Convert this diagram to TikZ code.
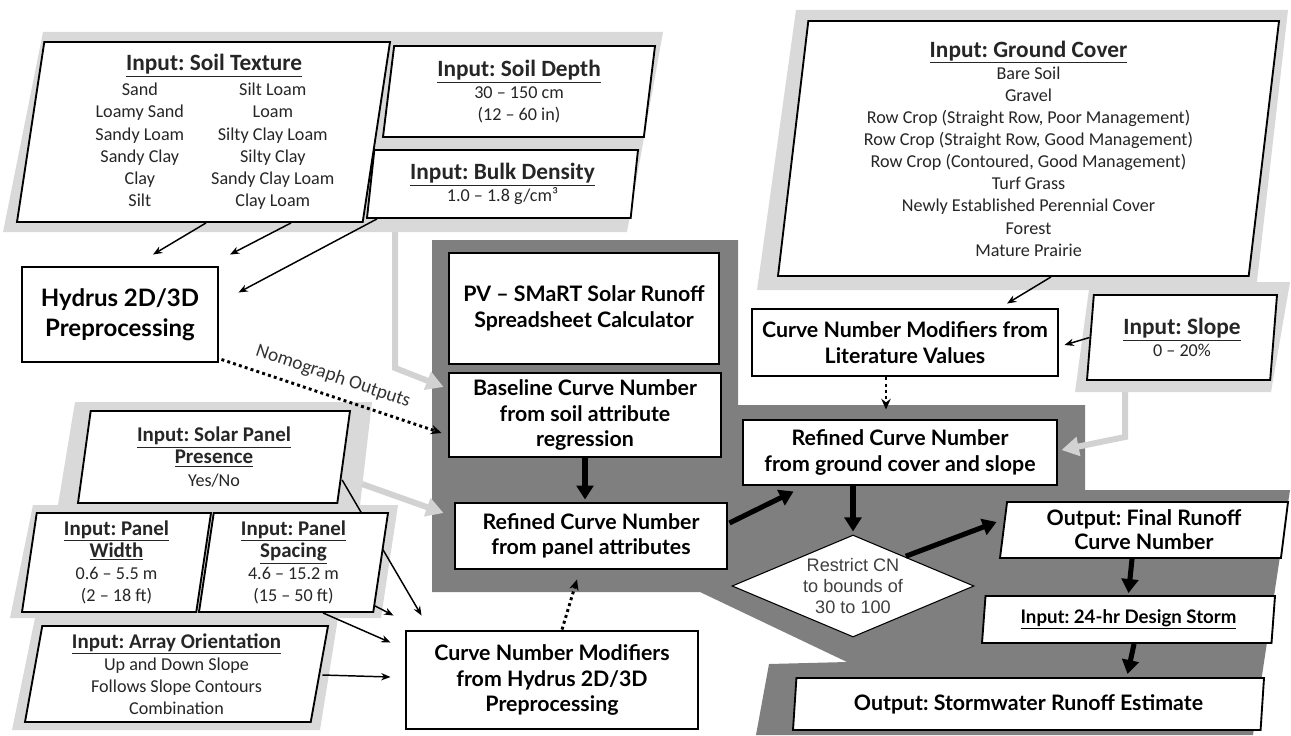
\documentclass[tikz,border=0pt]{standalone}
\usepackage{fontspec}
\setmainfont{Carlito}
\newfontfamily\procfont{Lato}
\newfontfamily\diafont{Liberation Sans}
\usetikzlibrary{shapes.geometric,arrows.meta,calc}
\pgfdeclarelayer{background}
\pgfdeclarelayer{behind}
\pgfsetlayers{background,behind,main}
\frenchspacing

\definecolor{darkbg}{HTML}{7F7F7F}
\definecolor{lightbg}{HTML}{D9D9D9}
\definecolor{lightarrow}{HTML}{D2D2D2}
\definecolor{inktext}{HTML}{262626}

\newcommand{\ttl}[1]{\underline{\textbf{#1}}}
\newcommand{\bigtitle}{\fontsize{17.5}{21}\selectfont}
\newcommand{\smalltitle}{\fontsize{15.7}{19.5}\selectfont}
\newcommand{\twocol}[2]{\hspace*{14pt}\makebox[90pt][c]{#1}\makebox[109.5pt][c]{#2}}

\begin{document}
\begin{tikzpicture}[x=0.75pt,y=-0.75pt,
  wh/.style 2 args={minimum width=#1*0.75pt, minimum height=#2*0.75pt},
  inbox/.style={trapezium, trapezium left angle=80, trapezium right angle=100,
    trapezium stretches body, draw=black, line width=1.4pt, fill=white,
    align=center, inner sep=0pt, text=inktext,
    font=\fontsize{13.6}{16.6}\selectfont},
  slantA/.style={trapezium left angle=82, trapezium right angle=98},
  slantB/.style={trapezium left angle=78, trapezium right angle=102},
  outbox/.style={inbox, text=black, font=\procfont\bfseries\fontsize{16}{18}\selectfont},
  procbox/.style={rectangle, draw=black, line width=2.2pt, fill=white,
    align=center, inner sep=0pt,
    font=\procfont\bfseries\fontsize{16}{19}\selectfont},
  thinarrow/.style={-{Stealth[length=7pt,width=5.5pt]}, line width=1.1pt},
  thickarrow/.style={-{Triangle[length=10.5pt,width=12.5pt]}, line width=3.8pt},
  dotarrow/.style={-{Stealth[length=8pt,width=7pt]}, line width=2.2pt,
    dash pattern=on 2.2pt off 2.4pt},
  grayarrow/.style={-{Triangle[length=13pt,width=14pt]}, line width=4.5pt, draw=lightarrow},
]
\useasboundingbox (0,0) rectangle (1291,735);

% ---------- group backgrounds ----------
\begin{pgfonlayer}{background}
  % soil inputs
  \fill[lightbg] (43,32) -- (663,32) -- (627,232) -- (3,232) -- cycle;
  % ground cover and slope inputs
  \fill[lightbg] (796,10) -- (1288,10) -- (1256,290) -- (757,290) -- cycle;
  \fill[lightbg] (1090,282) -- (1290,282) -- (1271,392) -- (1075,392) -- cycle;
  % panel inputs
  \fill[lightbg] (75,402) -- (372,402) -- (360,505) -- (58,505) -- cycle;
  \fill[lightbg] (33,505) -- (398,505) -- (381,618) -- (10,618) -- cycle;
  \fill[lightbg] (35,618) -- (338,618) -- (320,730) -- (12,730) -- cycle;
  % spreadsheet calculator region
  \fill[darkbg] (432,240) -- (738,240) -- (738,405) -- (1085,405) -- (1085,490)
    -- (1290,490) -- (1253,735) -- (756,735) -- (769,664) -- (847,662)
    -- (700,592) -- (432,592) -- cycle;
\end{pgfonlayer}

% ---------- inputs ----------
\node[inbox, wh={373}{180}] (soil) at (203.5,132)
  {\hspace*{16pt}{\bigtitle\ttl{Input: Soil Texture}}\\[2pt]
   \twocol{Sand}{Silt Loam}\\ \twocol{Loamy Sand}{Loam}\\
   \twocol{Sandy Loam}{Silty Clay Loam}\\ \twocol{Sandy Clay}{Silty Clay}\\
   \twocol{Clay}{Sandy Clay Loam}\\ \twocol{Silt}{Clay Loam}};
\node[inbox, wh={272}{91}] (depth) at (519,91.5)
  {{\bigtitle\ttl{Input: Soil Depth}}\\ 30 – 150 cm\\ (12 – 60 in)};
\node[inbox, wh={271}{68}] (density) at (502.5,184)
  {{\bigtitle\ttl{Input: Bulk Density}}\\ 1.0 – 1.8 g/cm³};
\node[inbox, slantA, wh={501}{255}] (ground) at (1028.5,148.5)
  {{\bigtitle\ttl{Input: Ground Cover}}\\ Bare Soil\\ Gravel\\
   Row Crop (Straight Row, Poor Management)\\
   Row Crop (Straight Row, Good Management)\\
   Row Crop (Contoured, Good Management)\\ Turf Grass\\
   Newly Established Perennial Cover\\ Forest\\ Mature Prairie};
\node[inbox, wh={190}{85}] (slope) at (1182,337.5)
  {{\bigtitle\ttl{Input: Slope}}\\ 0 – 20\%};
\node[inbox, slantB, wh={272}{92}] (solar) at (214,457)
  {{\smalltitle\ttl{Input: Solar Panel}}\\ {\smalltitle\ttl{Presence}}\\ Yes/No};
\node[inbox, wh={189}{99}] (pwidth) at (116.5,562.5)
  {{\smalltitle\ttl{Input: Panel}}\\ {\smalltitle\ttl{Width}}\\ 0.6 – 5.5 m\\ (2 – 18 ft)};
\node[inbox, wh={189}{99}] (spacing) at (293.5,562.5)
  {{\smalltitle\ttl{Input: Panel}}\\ {\smalltitle\ttl{Spacing}}\\ 4.6 – 15.2 m\\ (15 – 50 ft)};
\node[inbox, slantB, wh={303}{96}] (orient) at (176.5,674)
  {{\smalltitle\ttl{Input: Array Orientation}}\\ Up and Down Slope\\
   Follows Slope Contours\\ Combination};

% ---------- processing steps ----------
\node[procbox, wh={196}{95}, font=\procfont\bfseries\fontsize{18}{22.5}\selectfont]
  (hydrus) at (120,314.5) {Hydrus 2D/3D\\ Preprocessing};
\node[procbox, wh={270}{111}] (pv) at (584,308.5)
  {PV – SMaRT Solar Runoff\\ Spreadsheet Calculator};
\node[procbox, wh={272}{84}] (baseline) at (585,415)
  {Baseline Curve Number\\ from soil attribute\\ regression};
\node[procbox, wh={272}{66}] (panel) at (591,536)
  {Refined Curve Number\\ from panel attributes};
\node[procbox, wh={292}{98}] (hmod) at (552,680)
  {Curve Number Modifiers\\ from Hydrus 2D/3D\\ Preprocessing};
\node[procbox, wh={306}{67}] (lit) at (905,342.5)
  {Curve Number Modifiers from\\ Literature Values};
\node[procbox, wh={314}{65}] (refground) at (900,452.5)
  {Refined Curve Number\\ from ground cover and slope};
\node[diamond, draw=black, line width=0.8pt, fill=white, aspect=2.37,
  wh={242}{102}, inner sep=0pt, align=center, text=black!75,
  font=\diafont\fontsize{13.6}{16}\selectfont] (restrict) at (853,586)
  {Restrict CN\\ to bounds of\\ 30 to 100};

% ---------- outputs ----------
\node[outbox, wh={288}{56}] (final) at (1144,530)
  {Output: Final Runoff\\ Curve Number};
\node[outbox, wh={293}{47}, font=\procfont\bfseries\fontsize{14}{17}\selectfont]
  (storm) at (1128.5,619.5) {\underline{Input: 24-hr Design Storm}};
\node[outbox, wh={471}{52}] (runoff) at (1028.5,704)
  {Output: Stormwater Runoff Estimate};

% ---------- light connectors from input groups ----------
\coordinate (soilgroup) at (395,232);
\coordinate (panelgroup) at (362,484);
\coordinate (slopegroup) at (1125,392);
\begin{pgfonlayer}{behind}
  \draw[grayarrow] (soilgroup) -- ++(0,136) -- ($(baseline.west)+(-4,-28)$);
  \draw[grayarrow] (panelgroup) -- ($(panel.west)+(-10,-23)$);
  \draw[grayarrow] (slopegroup) -- ++(0,45) -- ($(refground.east)+(3,-2.5)$);
  % presence link runs behind the spacing box
  \draw[thinarrow] ($(solar.bottom right corner)+(4,-24)$) -- ($(hmod.north west)+(17,-14)$);
\end{pgfonlayer}

% ---------- input links ----------
\draw[thinarrow] ($(soil.south)+(2.5,0)$) -- ($(hydrus.north)+(33,-11)$);
\draw[thinarrow] ($(soil.south)+(87.5,0)$) -- ($(hydrus.north)+(110,-11)$);
\draw[thinarrow] ($(density.bottom left corner)+(11,0)$) -- ($(hydrus.east)+(19,-22)$);
\draw[thinarrow] ($(ground.south)+(22.5,0)$) -- ($(lit.north)+(102,-4)$);
\draw[thinarrow] (slope.west) -- ($(lit.east)+(5,2.5)$);
\draw[thinarrow] ($(spacing.bottom right corner)+(1,-7)$) -- ($(hmod.north west)+(-11,-14)$);
\draw[thinarrow] ($(spacing.south)+(29.5,0)$) -- ($(hmod.north west)+(-14,13)$);
\draw[thinarrow] ($(orient.east)+(2,1)$) -- ($(hmod.west)+(-14,-3)$);

% ---------- modifier links ----------
\draw[dotarrow] ($(hydrus.south east)+(2,-4)$) -- ($(baseline.west)+(-6,18)$)
  node[pos=0.48, sloped, above=7pt, inner sep=0pt, text=black!80,
       font=\fontsize{14.5}{16}\selectfont] (nomo) {Nomograph Outputs};
\draw[dotarrow] ($(lit.south)+(-19,0)$) -- ($(refground.north)+(-14,-9)$);
\draw[dotarrow] ($(hmod.north)+(10,0)$) -- ($(panel.south)+(-14,9)$);

% ---------- main flow ----------
\draw[thickarrow] (baseline.south) -- ($(panel.north)+(-6,-2)$);
\draw[thickarrow] ($(panel.east)+(1,-13)$) -- ($(refground.south west)+(52,5)$);
\draw[thickarrow] ($(refground.south)+(-47,0)$) -- ($(restrict.north)+(0,-3)$);
\draw[thickarrow] ($(restrict.north east)+(-8,-4)$) -- ($(final.west)+(-6,-8)$);
\draw[thickarrow] ($(final.south)+(-12,0)$) -- ($(storm.north)+(0,-2)$);
\draw[thickarrow] ($(storm.south)+(5.5,0)$) -- ($(runoff.north)+(99,-3)$);
\end{tikzpicture}
\end{document}
